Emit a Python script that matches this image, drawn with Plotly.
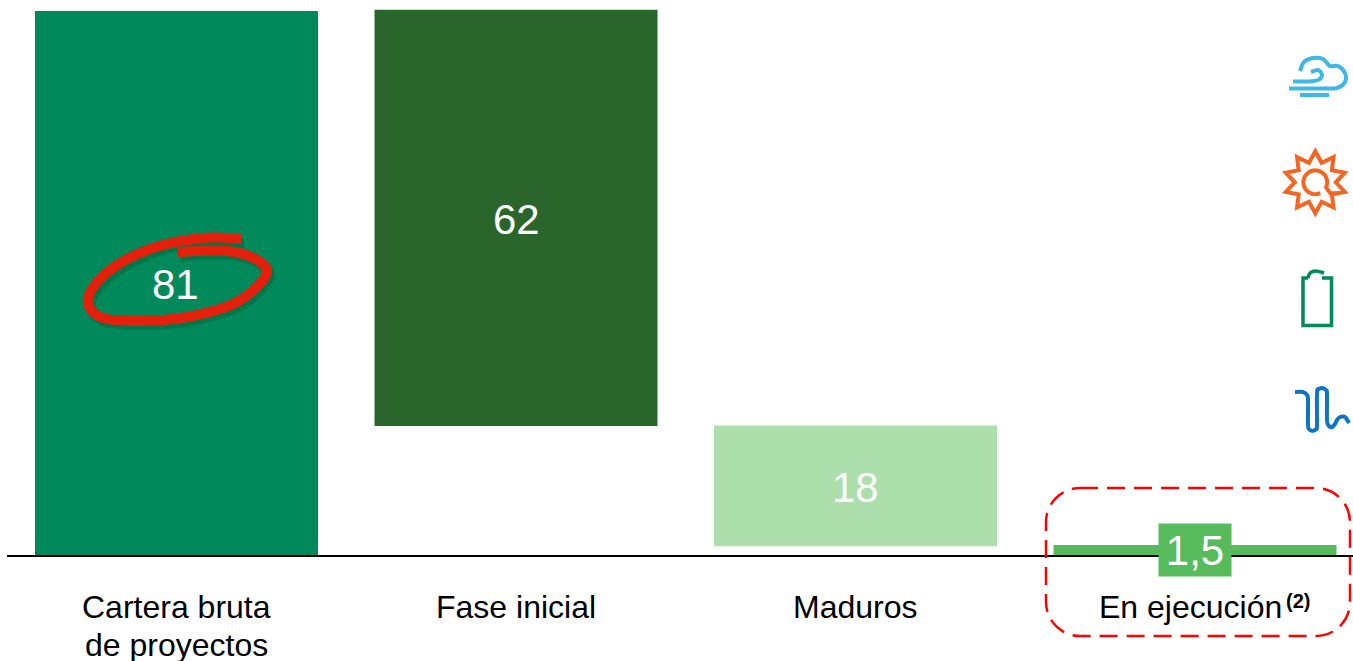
import math
import plotly.graph_objects as go

categories = ["Cartera bruta", "Fase inicial", "Maduros", "En ejecución"]
values = [81, 62, 18, 1.5]
bases = [0, 19.2, 1.3, 0]
value_labels = ["81", "62", "18", "1,5"]
bar_colors = ["#00895A", "#2A652B", "#ACDFAC", "#57BB5C"]

W, H = 1353, 661
AXIS_PX = 555
LABEL = "Liberation Sans, Arial, sans-serif"


def px(x):
    return x / W


def py(y):
    return 1 - y / H


def poly(pts, close=False):
    s = "M " + " L ".join(f"{px(x):.5f},{py(y):.5f}" for x, y in pts)
    return s + (" Z" if close else "")


def spline(pts, t=6.0):
    s = f"M {px(pts[0][0]):.5f},{py(pts[0][1]):.5f}"
    n = len(pts)
    for i in range(n - 1):
        p0 = pts[max(i - 1, 0)]
        p1 = pts[i]
        p2 = pts[i + 1]
        p3 = pts[min(i + 2, n - 1)]
        c1 = (p1[0] + (p2[0] - p0[0]) / t, p1[1] + (p2[1] - p0[1]) / t)
        c2 = (p2[0] - (p3[0] - p1[0]) / t, p2[1] - (p3[1] - p1[1]) / t)
        s += (
            f" C {px(c1[0]):.5f},{py(c1[1]):.5f}"
            f" {px(c2[0]):.5f},{py(c2[1]):.5f}"
            f" {px(p2[0]):.5f},{py(p2[1]):.5f}"
        )
    return s


def stroke(path, color, width, dash=None):
    line = dict(color=color, width=width)
    if dash:
        line["dash"] = dash
    return dict(type="path", xref="paper", yref="paper", path=path, line=line, layer="above")


shapes = []

# Hand-drawn ring round the first value
ring = [(241, 239), (203, 238), (153, 248), (110, 270), (88, 298), (100, 317), (137, 321),
        (187, 317), (237, 302), (266, 275), (257, 260), (227, 251), (178, 252)]
shapes.append(stroke(spline([(x + 3, y + 4) for x, y in ring]), "rgba(0,50,25,0.22)", 10))
shapes.append(stroke(spline(ring), "#E3200B", 10))

# Dashed rounded frame
L, R, T, B, r = 1046, 1350, 488, 636, 34
k = 0.45 * r
frame = (
    f"M {px(L + r)},{py(T)} L {px(R - r)},{py(T)} "
    f"C {px(R - k)},{py(T)} {px(R)},{py(T + k)} {px(R)},{py(T + r)} "
    f"L {px(R)},{py(B - r)} C {px(R)},{py(B - k)} {px(R - k)},{py(B)} {px(R - r)},{py(B)} "
    f"L {px(L + r)},{py(B)} C {px(L + k)},{py(B)} {px(L)},{py(B - k)} {px(L)},{py(B - r)} "
    f"L {px(L)},{py(T + r)} C {px(L)},{py(T + k)} {px(L + k)},{py(T)} {px(L + r)},{py(T)} Z"
)
shapes.append(stroke(frame, "#FF0000", 2.5, "18px,9px"))

# Wind icon
WIND = "#3FB7E8"
shapes.append(stroke(spline([(1300, 71), (1304, 62), (1313, 58), (1323, 59), (1330, 66), (1338, 66),
                             (1345, 73), (1345, 82), (1337, 88), (1325, 88.5)]), WIND, 4))
shapes.append(stroke(poly([(1289, 88.5), (1326, 88.5)]), WIND, 4))
shapes.append(stroke(spline([(1293, 81.5), (1308, 81.5), (1318, 80), (1322, 75), (1318, 70), (1311, 72)]), WIND, 4))
shapes.append(stroke(poly([(1300, 95), (1329, 95)]), WIND, 4))

# Sun icon
SUN = "#F26522"
cx, cy = 1315.3, 182.3
star = []
for i in range(20):
    a = -math.pi / 2 + i * math.pi / 10
    rad = 31 if i % 2 == 0 else 20.5
    star.append((cx + rad * math.cos(a), cy + rad * math.sin(a)))
shapes.append(stroke(poly(star, close=True), SUN, 4))
arc = []
for i in range(0, 17):
    a = math.radians(65 + 20 * i)
    arc.append((cx + 12 * math.cos(a), cy + 12 * math.sin(a)))
arc.append((cx + 15, cy + 11))
arc.append((cx + 23, cy + 11))
shapes.append(stroke(poly(arc), SUN, 4))

# Battery icon
BAT = "#00895A"
shapes.append(stroke(poly([(1322, 278), (1331.5, 278), (1331.5, 325.5), (1303, 325.5), (1303, 278), (1308, 278)]), BAT, 3.5))
shapes.append(stroke(spline([(1308, 278), (1310, 273), (1316, 271), (1324, 273)]), BAT, 3.5))

# Wave icon
WAVE = "#0F75C3"
shapes.append(stroke(spline([(1295, 392), (1303, 392), (1307, 395), (1308, 400), (1308, 425), (1309, 429),
                             (1312.5, 431), (1316, 429), (1317, 425), (1317, 393), (1319, 389), (1322, 388),
                             (1326, 390), (1327, 394), (1327, 420), (1329, 426), (1332, 427), (1335, 424),
                             (1337, 420), (1340, 417), (1345, 417), (1349, 423)]), WAVE, 4))

annotations = []
for i, name in enumerate(categories):
    annotations.append(dict(
        x=i, y=py(607), xref="x", yref="paper", text=name, showarrow=False,
        yanchor="middle", xanchor="center", xshift=-5 if i == 3 else 0,
        font=dict(family=LABEL, size=32, color="#000000"),
    ))
annotations.append(dict(
    x=0, y=py(644.5), xref="x", yref="paper", text="de proyectos", showarrow=False,
    yanchor="middle", xanchor="center", font=dict(family=LABEL, size=32, color="#000000"),
))
annotations.append(dict(
    x=3, y=py(601), xref="x", yref="paper", text="<b>(2)</b>", showarrow=False,
    yanchor="middle", xanchor="center", xshift=103,
    font=dict(family=LABEL, size=20, color="#000000"),
))
for i, label in enumerate(value_labels[:3]):
    annotations.append(dict(
        x=i, y=bases[i] + values[i] / 2, xref="x", yref="y", text=label, showarrow=False,
        yanchor="middle", xanchor="center", yshift=-1.5, xshift=-1 if i == 0 else 0,
        font=dict(family=LABEL, size=42, color="#FFFFFF"),
    ))
annotations.append(dict(
    x=3, y=py(550), xref="x", yref="paper", text=value_labels[3], showarrow=False,
    width=72, height=52, bgcolor="#57BB5C", borderpad=0, yanchor="middle", xanchor="center",
    font=dict(family=LABEL, size=42, color="#FFFFFF"),
))

fig = go.Figure(go.Bar(
    x=list(range(len(categories))),
    y=values,
    base=bases,
    width=283 / 339.5,
    marker=dict(color=bar_colors, line=dict(width=0)),
    hoverinfo="skip",
))

fig.update_layout(
    width=W,
    height=H,
    margin=dict(l=0, r=0, t=0, b=0),
    paper_bgcolor="#FFFFFF",
    plot_bgcolor="#FFFFFF",
    showlegend=False,
    shapes=shapes,
    annotations=annotations,
    xaxis=dict(
        domain=[7 / W, 1],
        range=[(7 - 176.5) / 339.5, (W - 176.5) / 339.5],
        showgrid=False,
        zeroline=False,
        showline=True,
        linecolor="#000000",
        linewidth=2,
        showticklabels=False,
        ticks="",
        tickvals=list(range(len(categories))),
    ),
    yaxis=dict(
        domain=[(H - AXIS_PX) / H, 1],
        range=[0, AXIS_PX / 6.716],
        visible=False,
    ),
)

fig.write_html("out.html", config=dict(displayModeBar=False),
               post_script="document.body.style.margin='0';")
